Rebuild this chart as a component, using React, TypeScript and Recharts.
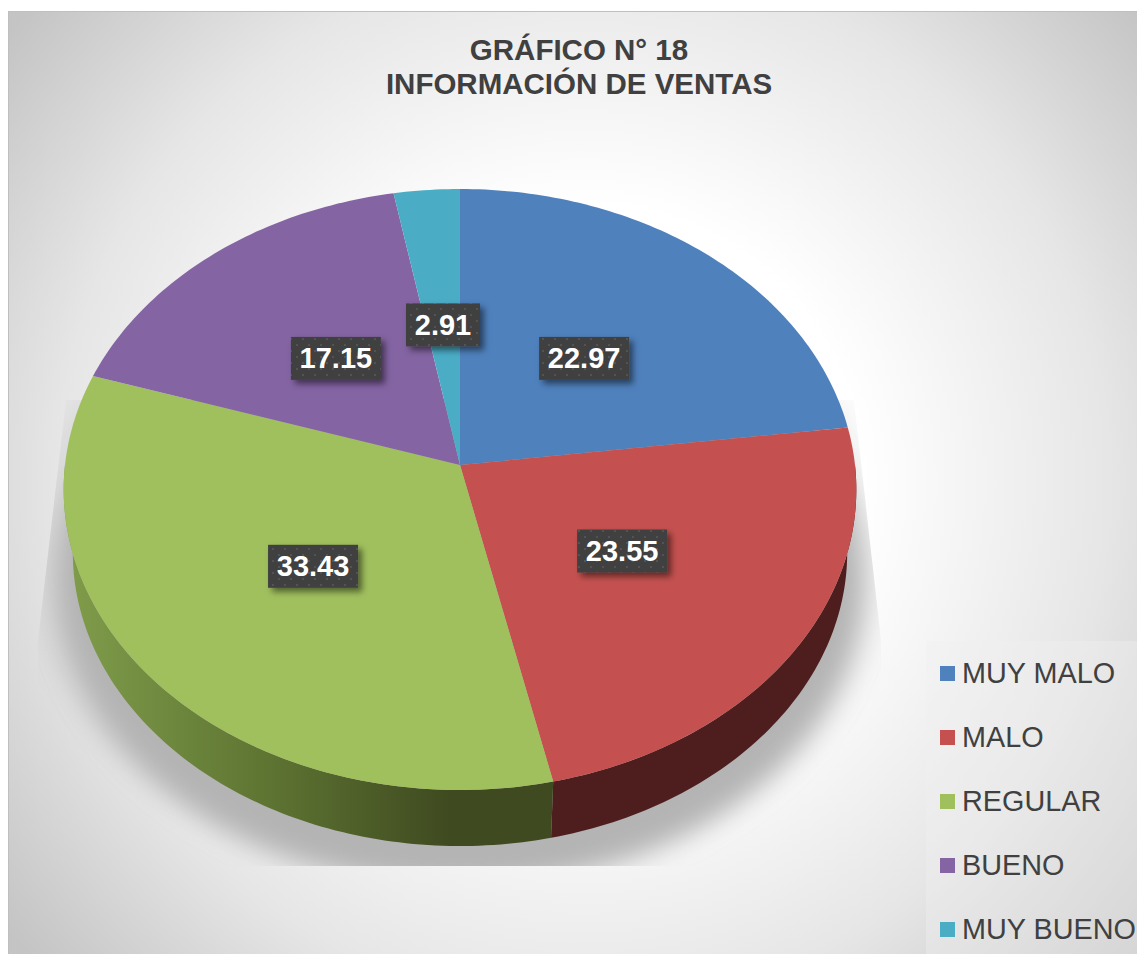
import { PieChart, Pie, Legend } from "recharts";

const categories = ["MUY MALO", "MALO", "REGULAR", "BUENO", "MUY BUENO"];
const shares = [22.97, 23.55, 33.43, 17.15, 2.91];
const palette = ["#4f81bd", "#c4514f", "#a0c05e", "#8464a3", "#4bacc6"];
const titleLines = ["GRÁFICO N° 18", "INFORMACIÓN DE VENTAS"];

const tableData = categories.map((name, i) => ({ name, value: shares[i], fill: palette[i] }));

const FONT = "'Liberation Sans', Arial, sans-serif";
const TEXT_COLOR = "#404040";

// perspective of the tilted disc
const TILT = 298.5 / 395;
const PERSP = 0.0815;
const WALL_DROP = 63.5;
const WALL_SCALE = 0.977;

function project(cx: number, cy: number, r: number, deg: number, radial = 1, drop = 0, scale = 1) {
  const a = (deg * Math.PI) / 180;
  const x = Math.sin(a) * radial;
  const y = -Math.cos(a) * radial;
  const w = 1 - PERSP * y;
  return [cx + (scale * r * x) / w, cy + drop + (scale * r * TILT * y) / w];
}

function arcPoints(cx: number, cy: number, r: number, from: number, to: number, drop = 0, scale = 1) {
  const pts: number[][] = [];
  const n = Math.max(2, Math.ceil(Math.abs(to - from)));
  for (let i = 0; i <= n; i++) {
    pts.push(project(cx, cy, r, from + ((to - from) * i) / n, 1, drop, scale));
  }
  return pts;
}

const toPath = (pts: number[][]) =>
  "M" + pts.map((p) => `${p[0].toFixed(2)},${p[1].toFixed(2)}`).join("L") + "Z";

function DiscSector(props: any) {
  const { cx, cy, outerRadius, startAngle, endAngle, fill, index } = props;
  const from = 90 - startAngle;
  const to = 90 - endAngle;
  const wallFrom = Math.max(from, 90);
  const wallTo = Math.min(to, 270);
  const hasWall = wallTo > wallFrom;
  const wallFill = index === 1 ? "#4e1e1e" : "url(#greenWall)";
  return (
    <g>
      {hasWall && (
        <path
          d={toPath([
            ...arcPoints(cx, cy, outerRadius, wallFrom, wallTo),
            ...arcPoints(cx, cy, outerRadius, wallTo, wallFrom, WALL_DROP, WALL_SCALE),
          ])}
          fill={wallFill}
        />
      )}
      <path d={toPath([[cx, cy], ...arcPoints(cx, cy, outerRadius, from, to)])} fill={fill} />
    </g>
  );
}

function ValueTag(props: any) {
  const { cx, cy, outerRadius, midAngle, value } = props;
  const [x, y] = project(cx, cy, outerRadius, 90 - midAngle, 0.49);
  const text = Number(value).toFixed(2);
  const w = text.length * 16 + 10;
  const h = 43;
  return (
    <g>
      <rect x={x - w / 2} y={y - h / 2} width={w} height={h} fill="url(#tagDots)" filter="url(#tagShadow)" />
      <text
        x={x}
        y={y + 10}
        textAnchor="middle"
        fontFamily={FONT}
        fontWeight="bold"
        fontSize={29}
        fill="#ffffff"
      >
        {text}
      </text>
    </g>
  );
}

function LegendList({ payload }: any) {
  return (
    <div style={{ width: 211, height: 313, background: "rgba(240,240,240,0.4)", position: "relative" }}>
      {(payload || []).map((entry: any, i: number) => (
        <div
          key={entry.value}
          style={{
            position: "absolute",
            left: 14,
            top: 12 + i * 64,
            height: 40,
            whiteSpace: "nowrap",
            display: "flex",
            alignItems: "center",
            fontFamily: FONT,
            fontSize: 28.8,
            color: TEXT_COLOR,
          }}
        >
          <span style={{ width: 15, height: 15, background: entry.color, marginRight: 7, display: "inline-block" }} />
          {entry.value}
        </div>
      ))}
    </div>
  );
}

export default function App() {
  const floorPts = arcPoints(460, 465, 395, 0, 360, 89, 1.02);
  const hazePts = arcPoints(460, 465, 395, 0, 360, 60, 1.09);
  return (
    <div style={{ position: "absolute", left: 0, top: 0, width: 1137, height: 954, overflow: "hidden", background: "#fff" }}>
      <div
        style={{
          position: "absolute",
          left: 8,
          top: 11,
          width: 1129,
          height: 943,
          boxSizing: "border-box",
          borderLeft: "1.5px solid #bfbfbf",
          borderTop: "1.5px solid #bfbfbf",
          background: "radial-gradient(circle 730px at 575px 470px, #ffffff 0%, #ffffff 38%, #e6e6e6 72%, #c4c4c4 100%)",
        }}
      />
      <div style={{ position: "absolute", left: 0, top: 0 }}>
        <PieChart width={1137} height={954} margin={{ top: 0, right: 0, bottom: 0, left: 0 }}>
          <defs>
            <linearGradient id="greenWall" gradientUnits="userSpaceOnUse" x1="70" y1="0" x2="450" y2="0">
              <stop offset="0%" stopColor="#7f9c4a" />
              <stop offset="50%" stopColor="#5f7633" />
              <stop offset="100%" stopColor="#3f4a20" />
            </linearGradient>
            <pattern id="tagDots" width="12" height="12" patternUnits="userSpaceOnUse">
              <rect width="12" height="12" fill="#404040" />
              <circle cx="3" cy="3" r="1.1" fill="#565656" />
              <circle cx="9" cy="9" r="1.1" fill="#565656" />
            </pattern>
            <filter id="tagShadow" x="-20%" y="-30%" width="150%" height="170%">
              <feDropShadow dx="4" dy="4" stdDeviation="3" floodColor="#000" floodOpacity="0.5" />
            </filter>
            <filter id="floorBlur" x="-10%" y="-10%" width="120%" height="120%">
              <feGaussianBlur stdDeviation="13" />
            </filter>
            <filter id="hazeBlur" x="-10%" y="-10%" width="120%" height="120%">
              <feGaussianBlur stdDeviation="16" />
            </filter>
            <clipPath id="floorClip">
              <polygon points="66,400 38,640 38,866 881,866 881,640 854,400" />
            </clipPath>
          </defs>
          <g clipPath="url(#floorClip)">
            <path d={toPath(hazePts)} fill="#000" opacity="0.05" filter="url(#hazeBlur)" />
            <path d={toPath(floorPts)} fill="#b4b4b4" filter="url(#floorBlur)" />
          </g>
          {titleLines.map((line, i) => (
            <text
              key={line}
              x={579}
              y={60 + i * 34}
              textAnchor="middle"
              fontFamily={FONT}
              fontWeight="bold"
              fontSize={29.5}
              fill={TEXT_COLOR}
            >
              {line}
            </text>
          ))}
          <Pie
            data={tableData}
            dataKey="value"
            nameKey="name"
            cx={460}
            cy={465}
            outerRadius={395}
            startAngle={90}
            endAngle={-270}
            stroke="none"
            shape={DiscSector}
            label={ValueTag}
            labelLine={false}
            isAnimationActive={false}
          />
          <Legend
            content={LegendList}
            itemSorter={null}
            wrapperStyle={{ position: "absolute", left: 926, top: 641, width: 211, height: 313, bottom: "auto" }}
          />
        </PieChart>
      </div>
    </div>
  );
}
